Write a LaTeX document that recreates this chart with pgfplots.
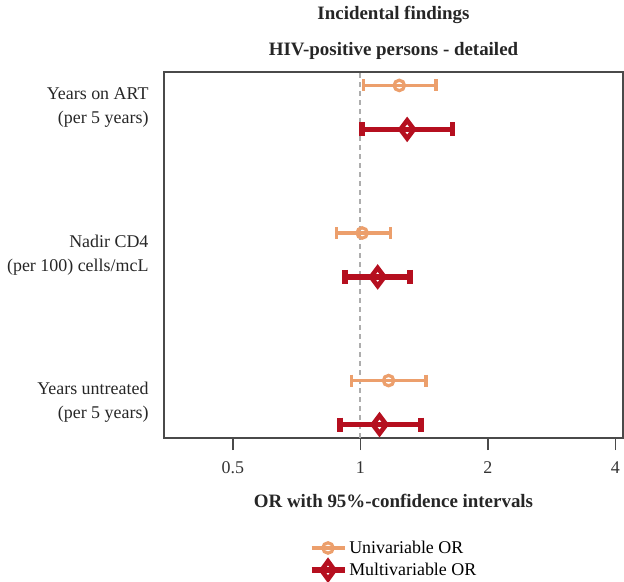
\documentclass[border=0pt]{standalone}
\usepackage{fontspec}
\setmainfont{Liberation Serif}
\usepackage{pgfplots}
\pgfplotsset{compat=1.18}

\definecolor{univ}{HTML}{EC9F6C}
\definecolor{multi}{HTML}{B50F1F}
\definecolor{frame}{HTML}{4A4A4A}

\begin{document}
\begin{tikzpicture}
\path[use as bounding box] (0,0) rectangle (624bp,582bp);
\begin{axis}[
  at={(164bp,144bp)}, anchor=south west,
  scale only axis,
  width=459bp, height=366bp,
  xmode=log, log basis x=2,
  xmin=0.344, xmax=4.17,
  ymin=-0.24, ymax=2.24,
  xtick={0.5,1,2,4},
  xticklabels={0.5,1,2,4},
  ytick={0,1,2},
  yticklabels={{Years untreated\\(per 5 years)},{Nadir CD4\\(per 100) cells/mcL},{Years on ART\\(per 5 years)}},
  yticklabel style={align=right, font=\fontsize{18}{24}\selectfont, text=black!85},
  xticklabel style={font=\fontsize{18}{22}\selectfont, text=black!80, yshift=-8bp},
  ytick style={draw=none},
  xtick pos=bottom,
  tick align=outside,
  major tick length=12bp,
  xtick style={line width=1.6bp, draw=frame},
  axis line style={line width=1.6bp, draw=frame},
  /pgf/number format/assume math mode=true,
  title={Incidental findings\\[14bp]HIV-positive persons - detailed},
  title style={align=center, font=\bfseries\fontsize{19}{22}\selectfont, text=black!85, yshift=3bp},
  xlabel={OR with 95\%-confidence intervals},
  xlabel style={font=\bfseries\fontsize{19}{22}\selectfont, text=black!85, yshift=-14bp},
  legend style={at={(0.5,-0.27)}, anchor=north, draw=none, fill=none,
    font=\fontsize{18}{20}\selectfont, row sep=2bp, cells={anchor=west}},
  clip=false,
]
% reference line at OR = 1
\addplot[forget plot, draw=black!32, line width=2.2bp, dash pattern=on 5bp off 4bp]
  coordinates {(1,-0.24) (1,2.24)};

% confidence intervals, univariable
\addplot[forget plot, univ, line width=3.4bp, mark=|, mark size=6bp,
  mark options={solid, line width=3.4bp}, unbounded coords=jump]
  coordinates {
    (1.018,2.149) (1.51,2.149) (nan,nan)
    (0.878,1.149) (1.177,1.149) (nan,nan)
    (0.952,0.149) (1.43,0.149)
  };
% confidence intervals, multivariable
\addplot[forget plot, multi, line width=5.6bp, mark=|, mark size=7bp,
  mark options={solid, line width=5.6bp}, unbounded coords=jump]
  coordinates {
    (1.01,1.851) (1.65,1.851) (nan,nan)
    (0.921,0.851) (1.31,0.851) (nan,nan)
    (0.894,-0.149) (1.39,-0.149)
  };

% point estimates
\addplot[only marks, mark=o, mark size=5.2bp, mark options={draw=univ, line width=3.2bp},
  legend image code/.code={
    \draw[univ, line width=3.4bp] (0bp,0bp) -- (33bp,0bp);
    \draw[univ, line width=3.2bp] (16.5bp,0bp) circle (5.2bp);}]
  coordinates {(1.236,2.149) (1.01,1.149) (1.166,0.149)};
\addlegendentry{Univariable OR}
\addplot[only marks, mark=diamond, mark size=9bp, mark options={draw=multi, line width=4.6bp},
  legend image code/.code={
    \draw[multi, line width=5.6bp] (0bp,0bp) -- (33bp,0bp);
    \draw[multi, line width=4.6bp] (16.5bp,-9bp) -- (23bp,0bp) -- (16.5bp,9bp) -- (10bp,0bp) -- cycle;}]
  coordinates {(1.29,1.851) (1.099,0.851) (1.11,-0.149)};
\addlegendentry{Multivariable OR}
\end{axis}
\end{tikzpicture}
\end{document}
